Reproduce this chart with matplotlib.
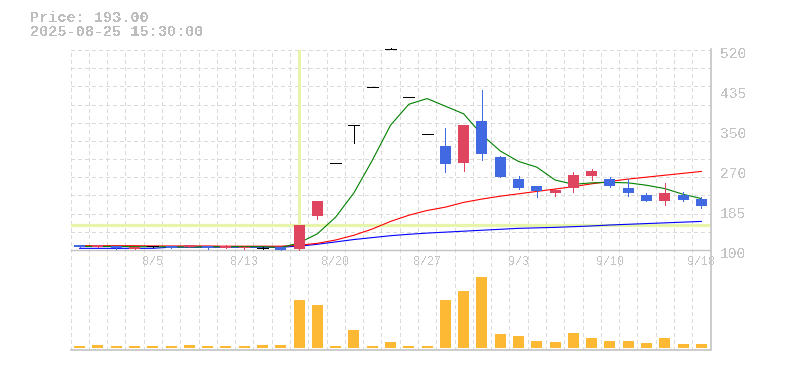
import matplotlib
matplotlib.use('Agg')
import numpy as np
from matplotlib import pyplot as plt
from matplotlib.lines import Line2D
from matplotlib.transforms import ScaledTranslation

# dados (35 pregoes, 7/30 a 9/18)
datas = ['7/30', '7/31', '8/1', '8/4', '8/5', '8/6', '8/7', '8/8', '8/12', '8/13',
         '8/14', '8/15', '8/18', '8/19', '8/20', '8/21', '8/22', '8/25', '8/26', '8/27',
         '8/28', '8/29', '9/1', '9/2', '9/3', '9/4', '9/5', '9/8', '9/9', '9/10',
         '9/11', '9/12', '9/16', '9/17', '9/18']
abertura = [110.5, 107, 108, 102, 107.5, 108, 107, 108, 104, 104,
            105, 106, 102, 172, 282, 362, 442, 522, 422, 343,
            318, 283, 371, 295, 249, 234, 220.5, 231, 256, 249,
            231, 215.5, 203.5, 215.5, 207]
maxima = [111.5, 111, 109, 107, 108, 108.5, 111.5, 108.5, 109.5, 107.5,
          106, 106.5, 152.5, 203, 282, 362, 442, 524, 422, 343,
          357, 362.5, 436, 298, 255, 235, 229.5, 263, 270, 253,
          249, 219.5, 240.5, 221, 210.5]
minima = [106, 106, 103, 101.5, 107, 104, 106.5, 103, 103.5, 101.5,
          102, 100.5, 101, 166, 282, 325, 442, 522, 422, 343,
          264, 266, 289, 254, 229, 212, 214, 222.5, 246, 232,
          213, 203.5, 195, 203.5, 189]
fechamento = [107, 110, 104, 106, 107.5, 105, 110, 104, 109, 107,
              105, 101, 152.5, 203, 282, 362, 442, 522, 422, 343,
              281, 362.5, 302, 254, 231, 223, 226.5, 257.5, 266, 235,
              220, 203.5, 219.5, 205.5, 193]
volume = [20, 30, 20, 20, 20, 20, 30, 20, 20, 20,
          30, 30, 480, 430, 20, 180, 20, 60, 20, 20,
          480, 570, 710, 140, 120, 70, 60, 150, 100, 70,
          70, 50, 100, 40, 40]
media_5 = [107.5, 107.5, 107.5, 107, 107, 106.5, 106.5, 106.5, 107, 107,
           107, 105, 115, 134, 169, 220, 288, 362, 406, 418,
           402, 386, 342, 308, 286, 274, 247, 238, 241, 242,
           241, 236, 229, 217, 208]
media_25 = [109, 109, 109, 109, 108.5, 108.5, 108.5, 108.5, 108, 108,
            108, 108, 110, 114, 121, 131, 144, 160, 173, 183,
            190, 200, 207, 213, 218, 223, 228, 233, 239, 244,
            249, 253, 257, 261, 265]
media_75 = [103.5, 103.5, 103.5, 103.5, 103.5, 106, 106, 106, 106, 106,
            106, 106, 108, 112, 117, 122, 126, 130, 133, 135.5,
            137.5, 139.5, 141.5, 143.5, 145.5, 146.5, 147.5, 149, 150.5, 152.5,
            154, 155.5, 157, 158.5, 160]
datas_eixo = ['8/5', '8/13', '8/20', '8/27', '9/3', '9/10', '9/18']
precos_eixo = ['100', '185', '270', '350', '435', '520']
cursor = 12

W, H = 785, 370
cinza = '#c4c4c4'
grade = '#dadada'
alta = '#e0455f'
baixa = '#4169e1'

plt.rcParams['text.antialiased'] = False
plt.rcParams['font.family'] = ['Liberation Mono', 'DejaVu Sans Mono']

fig = plt.figure(figsize=(W / 100, H / 100), dpi=100)
x0, x1 = 70.5, 710.5
n = len(datas)
xs = np.arange(n)


def caixa(topo, base):
    return [x0 / W, 1 - base / H, (x1 - x0) / W, (base - topo) / H]


# fundo: grade vertical que passa pelos dois paineis
ax_bg = fig.add_axes(caixa(50, 349.5))
ax_bg.set_xlim(-0.5, n - 0.5)
ax_bg.set_ylim(0, 1)
for k in range(n):
    ax_bg.axvline(k - 0.5, color=grade, lw=0.75, ls=(0, (3, 3)), antialiased=False)
ax_bg.axis('off')

# painel de precos
ax = fig.add_axes(caixa(50, 250))
ax.set_facecolor('none')
ax.set_xlim(-0.5, n - 0.5)
ax.set_ylim(100, 520)
for y in np.linspace(100, 520, 12):
    ax.axhline(y, color=grade, lw=0.75, ls=(0, (3, 3)), antialiased=False, zorder=0)

ax.axvline(cursor, color='#e6f5a9', lw=2.1, zorder=1)
ax.axhline(fechamento[cursor], color='#e6f5a9', lw=2.3, zorder=1)

ax.plot(xs, media_75, color='#0000ff', lw=0.8, zorder=2)
ax.plot(xs, media_25, color='#ff0000', lw=0.8, zorder=2)
ax.plot(xs, media_5, color='#008000', lw=0.8, zorder=2)

for i in range(n):
    o, h, l, c = abertura[i], maxima[i], minima[i], fechamento[i]
    if c > o:
        cor = alta
    elif c < o:
        cor = baixa
    else:
        cor = 'black'
    ax.vlines(i, l, h, color=cor, lw=0.5, antialiased=False, zorder=3, clip_on=False)
    if c == o:
        ax.hlines(c, i - 0.3, i + 0.3, color=cor, lw=0.6, antialiased=False,
                  zorder=4, clip_on=False)
    else:
        ax.bar(i, c - o, bottom=o, width=0.6, color=cor, antialiased=False, zorder=4)

ax.set_xticks([datas.index(d) for d in datas_eixo])
ax.set_xticklabels(datas_eixo)
ax.set_yticks(np.linspace(100, 520, len(precos_eixo)))
ax.set_yticklabels(precos_eixo)
ax.yaxis.tick_right()
ax.tick_params(axis='x', length=0, pad=4, labelsize=8.5, labelcolor=cinza)
ax.tick_params(axis='y', length=0, pad=6.8, labelsize=10.5, labelcolor=cinza)
for lab in ax.get_yticklabels():
    lab.set_transform(lab.get_transform() + ScaledTranslation(0, -2 / 100, fig.dpi_scale_trans))
for lado in ['top', 'left', 'right']:
    ax.spines[lado].set_visible(False)
ax.spines['bottom'].set_color(cinza)
ax.spines['bottom'].set_linewidth(1.0)

# painel de volume
ax_v = fig.add_axes(caixa(270, 349.5))
ax_v.set_facecolor('none')
ax_v.set_xlim(-0.5, n - 0.5)
ax_v.set_ylim(-15, 780)
ax_v.bar(xs, volume, width=0.6, color='#fdb934', antialiased=False)
ax_v.set_xticks([])
ax_v.set_yticks([])
for lado in ['top', 'left', 'right']:
    ax_v.spines[lado].set_visible(False)
ax_v.spines['bottom'].set_color(cinza)
ax_v.spines['bottom'].set_linewidth(1.2)

fig.add_artist(Line2D([x1 / W, x1 / W], [1 - 49 / H, 1 - 349.5 / H], color=cinza,
                      lw=1.2, transform=fig.transFigure, zorder=10))

fig.text(30 / W, 1 - 22 / H, 'Price: 193.00', fontsize=11, color='#bdbdbd',
         va='baseline', fontweight='bold')
fig.text(30 / W, 1 - 36.3 / H, '2025-08-25 15:30:00', fontsize=11, color='#bdbdbd',
         va='baseline', fontweight='bold')

plt.savefig('out.png', dpi=100)
